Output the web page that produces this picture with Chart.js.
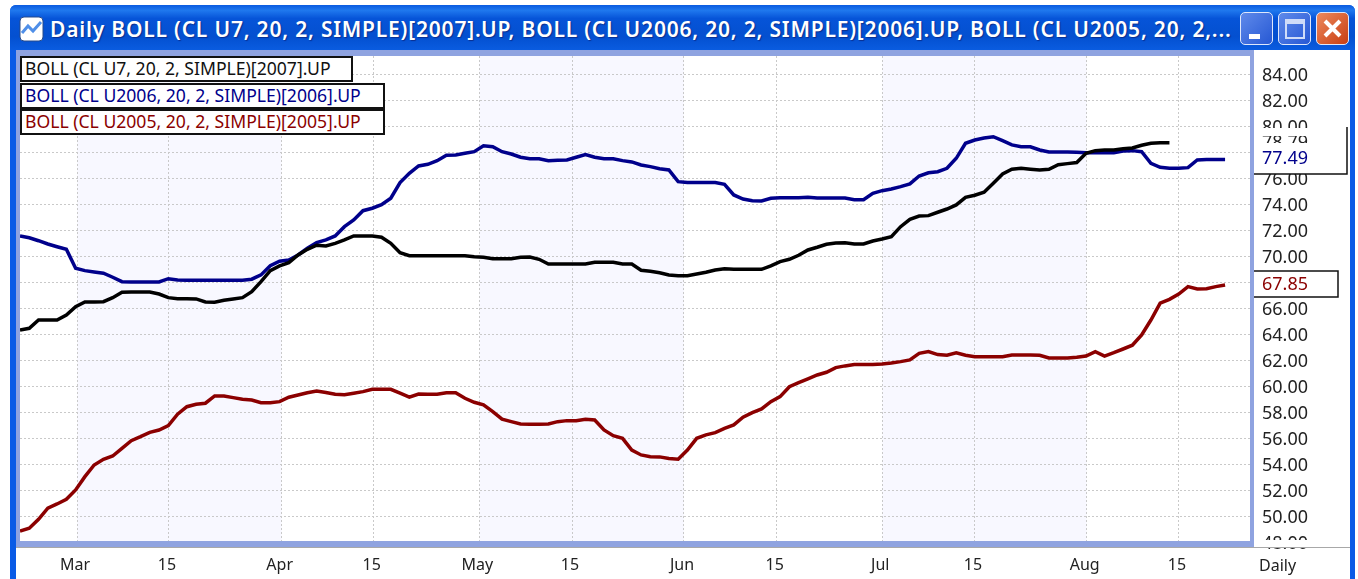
<!DOCTYPE html>
<html>
<head>
<meta charset="utf-8">
<style>
  html, body { margin: 0; padding: 0; background: #fff; }
  body { width: 1358px; height: 579px; position: relative; overflow: hidden; font-family: "Noto Sans", sans-serif; }
  #win { position: absolute; left: 10px; top: 5px; width: 1345px; height: 574px; background: #0a5be6; border-radius: 6px 6px 0 0; }
  #bar { position: absolute; left: 10px; top: 5px; width: 1345px; height: 45px; border-radius: 6px 6px 0 0;
         background: linear-gradient(#0a5ae0 0%, #1f78ee 12%, #0654d8 30%, #0450d0 70%, #0a5ce0 100%); }
  #title { position: absolute; left: 50px; top: 15px; color: #fff; font-size: 21px; font-weight: 600; letter-spacing: 0.8px; white-space: nowrap; text-shadow: 1px 1px 1px #0a2f90; line-height: 28px; }
  #frame { position: absolute; left: 16px; top: 50px; width: 1238px; height: 497px; background: #8fa3e0; }
  #plot { position: absolute; left: 20px; top: 56px; width: 1230px; height: 485px; background: #fff; }
  #side { position: absolute; left: 1254px; top: 50px; width: 96px; height: 497px; background: #fff; }
  #foot { position: absolute; left: 16px; top: 547px; width: 1334px; height: 32px; background: #fff; }
  canvas { position: absolute; left: 0; top: 0; }
  .leg { position: absolute; left: 20px; box-sizing: border-box; border: 2px solid #111; background: #fff; font-size: 17.6px; line-height: 21px; padding-left: 3px; white-space: nowrap; }
  .btn { position: absolute; top: 12px; width: 33px; height: 33px; box-sizing: border-box; border: 1px solid #dfe8fb; border-radius: 5px; background: linear-gradient(135deg, #5f8aea, #2658d4); }
  #daily { position: absolute; left: 1259px; top: 553px; font-size: 16px; line-height: 24px; color: #222; }
</style>
</head>
<body>
<div id="win"></div>
<div id="bar"></div>
<svg style="position:absolute;left:19px;top:16px" width="25" height="26" viewBox="0 0 25 26">
  <rect x="1" y="1" width="23" height="24" rx="4" fill="#fff" stroke="#274a8a"/>
  <path d="M3 17 L9 10 L14 15 L22 6" fill="none" stroke="#4f8fe8" stroke-width="3"/>
</svg>
<div id="title">Daily BOLL (CL U7, 20, 2, SIMPLE)[2007].UP, BOLL (CL U2006, 20, 2, SIMPLE)[2006].UP, BOLL (CL U2005, 20, 2,...</div>
<div class="btn" style="left:1240px"><div style="position:absolute;left:8px;top:21px;width:11px;height:5px;background:#fff"></div></div>
<div class="btn" style="left:1278px"><div style="position:absolute;left:6px;top:6px;width:20px;height:20px;box-sizing:border-box;border:2px solid #cfdcf8;border-top-width:5px"></div></div>
<div class="btn" style="left:1316px;background:linear-gradient(135deg,#ec8a5e,#c93e12)">
  <svg width="31" height="31" viewBox="0 0 31 31"><path d="M8 8 L23 23 M23 8 L8 23" stroke="#fff" stroke-width="4"/></svg>
</div>
<div id="frame"></div>
<div id="plot"></div>
<div id="side"></div>
<div id="foot"></div>
<canvas id="myChart" width="1358" height="579"></canvas>
<div class="leg" style="top:56px;width:333px;height:26px;color:#111">BOLL (CL U7, 20, 2, SIMPLE)[2007].UP</div>
<div class="leg" style="top:83px;width:365px;height:26px;color:#00008b">BOLL (CL U2006, 20, 2, SIMPLE)[2006].UP</div>
<div class="leg" style="top:109px;width:365px;height:26px;color:#8b0000">BOLL (CL U2005, 20, 2, SIMPLE)[2005].UP</div>
<div id="daily">Daily</div>

<script src="https://cdn.jsdelivr.net/npm/chart.js"></script>
<script>
  // values, one per trading bar
  const boll2007 = [
    64.38, 64.51, 65.15, 65.15, 65.15, 65.54, 66.18, 66.54, 66.54, 66.56,
    66.87, 67.29, 67.31, 67.31, 67.31, 67.15, 66.87, 66.79, 66.79, 66.77,
    66.54, 66.52, 66.67, 66.77, 66.87, 67.33, 68.10, 68.95, 69.31, 69.56,
    70.15, 70.59, 70.90, 70.85, 71.05, 71.31, 71.62, 71.62, 71.62, 71.52,
    71.05, 70.33, 70.10, 70.10, 70.10, 70.10, 70.10, 70.10, 70.10, 70.02,
    69.98, 69.87, 69.87, 69.87, 69.98, 70.00, 69.82, 69.46, 69.46, 69.46,
    69.46, 69.46, 69.59, 69.59, 69.59, 69.46, 69.46, 68.98, 68.90, 68.79,
    68.62, 68.56, 68.56, 68.69, 68.82, 69.00, 69.10, 69.05, 69.05, 69.05,
    69.05, 69.31, 69.64, 69.82, 70.13, 70.54, 70.75, 70.98, 71.08, 71.10,
    71.00, 71.00, 71.23, 71.38, 71.56, 72.33, 72.90, 73.15, 73.18, 73.44,
    73.69, 74.00, 74.59, 74.75, 74.98, 75.67, 76.38, 76.75, 76.82, 76.75,
    76.69, 76.75, 77.10, 77.18, 77.26, 77.98, 78.18, 78.23, 78.23, 78.33,
    78.38, 78.59, 78.75, 78.79, 78.79
  ];
  const boll2006 = [
    71.62, 71.48, 71.25, 71.00, 70.79, 70.59, 69.13, 68.95, 68.85, 68.75,
    68.44, 68.10, 68.08, 68.08, 68.08, 68.08, 68.33, 68.23, 68.21, 68.21,
    68.21, 68.21, 68.21, 68.21, 68.21, 68.29, 68.62, 69.33, 69.67, 69.77,
    70.15, 70.67, 71.10, 71.31, 71.62, 72.33, 72.85, 73.56, 73.75, 74.02,
    74.52, 75.72, 76.44, 77.00, 77.13, 77.41, 77.82, 77.85, 77.98, 78.10,
    78.56, 78.48, 78.10, 77.92, 77.67, 77.56, 77.56, 77.41, 77.44, 77.46,
    77.67, 77.87, 77.67, 77.56, 77.56, 77.41, 77.31, 77.08, 76.95, 76.79,
    76.69, 75.79, 75.72, 75.72, 75.72, 75.72, 75.59, 74.77, 74.46, 74.33,
    74.31, 74.52, 74.56, 74.56, 74.56, 74.59, 74.54, 74.54, 74.54, 74.54,
    74.41, 74.41, 74.90, 75.10, 75.23, 75.41, 75.62, 76.23, 76.48, 76.56,
    76.82, 77.59, 78.75, 79.00, 79.15, 79.25, 78.95, 78.62, 78.48, 78.48,
    78.23, 78.08, 78.08, 78.08, 78.05, 78.02, 78.02, 78.02, 78.02, 78.15,
    78.18, 78.10, 77.21, 76.90, 76.82, 76.82, 76.87, 77.46, 77.49, 77.49,
    77.49
  ];
  const boll2005 = [
    48.92, 49.13, 49.82, 50.67, 51.00, 51.36, 52.08, 53.10, 54.00, 54.44,
    54.69, 55.28, 55.87, 56.18, 56.51, 56.69, 57.02, 57.90, 58.48, 58.67,
    58.75, 59.31, 59.31, 59.18, 59.05, 59.00, 58.79, 58.79, 58.87, 59.21,
    59.38, 59.56, 59.69, 59.58, 59.44, 59.41, 59.52, 59.64, 59.82, 59.82,
    59.82, 59.52, 59.21, 59.46, 59.44, 59.44, 59.56, 59.56, 59.13, 58.82,
    58.62, 58.10, 57.52, 57.33, 57.15, 57.13, 57.13, 57.15, 57.33, 57.41,
    57.41, 57.52, 57.46, 56.69, 56.25, 56.05, 55.15, 54.77, 54.64, 54.62,
    54.49, 54.44, 55.15, 56.05, 56.31, 56.49, 56.82, 57.08, 57.67, 58.02,
    58.31, 58.87, 59.26, 60.02, 60.33, 60.62, 60.92, 61.13, 61.49, 61.62,
    61.72, 61.72, 61.72, 61.77, 61.85, 61.95, 62.08, 62.59, 62.72, 62.49,
    62.44, 62.62, 62.44, 62.33, 62.33, 62.33, 62.33, 62.46, 62.46, 62.46,
    62.44, 62.23, 62.23, 62.23, 62.28, 62.38, 62.72, 62.38, 62.64, 62.92,
    63.21, 64.00, 65.15, 66.44, 66.74, 67.15, 67.72, 67.54, 67.56, 67.72,
    67.85
  ];
  const xTickNames = ['Mar', '15', 'Apr', '15', 'May', '15', 'Jun', '15', 'Jul', '15', 'Aug', '15'];
  const xTickBars = [6.15, 16.07, 28.23, 38.16, 49.55, 59.55, 71.63, 81.63, 93.02, 103.02, 115.07, 125.02];
  const yTicks = [84, 82, 80, 78, 76, 74, 72, 70, 68, 66, 64, 62, 60, 58, 56, 54, 52, 50, 48];

  const toPoints = values => values.map((v, i) => ({ x: i, y: v }));

  const gridStyle = {
    // 48.00 only shows as a clipped label, its line falls outside the plot
    color: c => (c.tick && c.tick.value === 48 ? 'transparent' : '#c9c9c9'),
    lineWidth: 1,
    drawTicks: false,
  };
  const borderStyle = { display: false, dash: [2, 2] };

  // shaded months, axis tags and the cover under the last tick label
  const chromePlugin = {
    id: 'chrome',
    beforeDraw(chart) {
      const { ctx, chartArea, scales } = chart;
      ctx.save();
      ctx.fillStyle = '#f8f8ff';
      [[0, 2], [4, 6], [8, 10]].forEach(([a, b]) => {
        const x1 = scales.x.getPixelForValue(xTickBars[a]);
        const x2 = scales.x.getPixelForValue(xTickBars[b]);
        ctx.fillRect(x1, chartArea.top, x2 - x1, chartArea.height);
      });
      ctx.restore();
    },
    afterDraw(chart) {
      const { ctx, scales } = chart;
      const font = '18px "Noto Sans"';
      ctx.save();
      ctx.fillStyle = '#fff';
      ctx.fillRect(1254, 540, 96, 7);
      ctx.fillStyle = '#a8a8a8';
      ctx.fillRect(16, 547, 1334, 1);

      // upper pair of tags
      ctx.fillStyle = '#fff';
      ctx.fillRect(1254, 128, 93, 46);
      ctx.font = font;
      ctx.textBaseline = 'middle';
      ctx.save();
      ctx.beginPath();
      ctx.rect(1254, 136, 93, 7);
      ctx.clip();
      ctx.fillStyle = '#222';
      ctx.fillText(boll2007[boll2007.length - 1].toFixed(2), 1262, scales.y.getPixelForValue(boll2007[boll2007.length - 1]));
      ctx.restore();
      ctx.fillStyle = '#00008b';
      ctx.fillText(boll2006[boll2006.length - 1].toFixed(2), 1262, scales.y.getPixelForValue(boll2006[boll2006.length - 1]) - 1);
      ctx.strokeStyle = '#111';
      ctx.lineWidth = 1.5;
      ctx.beginPath();
      ctx.moveTo(1347, 127);
      ctx.lineTo(1347, 174);
      ctx.lineTo(1254, 174);
      ctx.stroke();

      // red tag
      ctx.fillStyle = '#fff';
      ctx.fillRect(1254, 271, 84, 26);
      ctx.fillStyle = '#8b0000';
      ctx.fillText(boll2005[boll2005.length - 1].toFixed(2), 1262, scales.y.getPixelForValue(boll2005[boll2005.length - 1]));
      ctx.beginPath();
      ctx.moveTo(1254, 271);
      ctx.lineTo(1338, 271);
      ctx.lineTo(1338, 297);
      ctx.lineTo(1254, 297);
      ctx.stroke();
      ctx.restore();
    }
  };

  const ctx = document.getElementById('myChart');

  new Chart(ctx, {
    type: 'line',
    plugins: [chromePlugin],
    data: {
      datasets: [
        { label: 'BOLL (CL U7, 20, 2, SIMPLE)[2007].UP', data: toPoints(boll2007), borderColor: '#000000', borderWidth: 3.5 },
        { label: 'BOLL (CL U2006, 20, 2, SIMPLE)[2006].UP', data: toPoints(boll2006), borderColor: '#00008b', borderWidth: 3.5 },
        { label: 'BOLL (CL U2005, 20, 2, SIMPLE)[2005].UP', data: toPoints(boll2005), borderColor: '#8b0000', borderWidth: 3.5 },
      ],
    },
    options: {
      responsive: false,
      animation: false,
      events: [],
      elements: { point: { radius: 0 }, line: { tension: 0 } },
      layout: { padding: { left: 20, top: 56, right: 0, bottom: 0 } },
      plugins: { legend: { display: false }, tooltip: { enabled: false } },
      scales: {
        x: {
          type: 'linear',
          min: 0,
          max: 132.69,
          border: borderStyle,
          grid: gridStyle,
          ticks: {
            autoSkip: false,
            maxRotation: 0,
            color: '#222',
            padding: 15,
            labelOffset: -2,
            font: { family: 'Noto Sans', size: 16 },
            callback: (value, index) => xTickNames[index],
          },
          afterBuildTicks: scale => { scale.ticks = xTickBars.map(value => ({ value })); },
          afterFit: scale => { scale.height = 38; },
        },
        y: {
          position: 'right',
          min: 48.15,
          max: 85.46,
          border: borderStyle,
          grid: gridStyle,
          ticks: {
            autoSkip: false,
            color: '#222',
            padding: 12,
            labelOffset: 1,
            font: { family: 'Noto Sans', size: 18 },
            callback: value => value.toFixed(2),
          },
          afterBuildTicks: scale => { scale.ticks = yTicks.map(value => ({ value })); },
          afterFit: scale => { scale.width = 108; },
        },
      },
    },
  });
</script>
</body>
</html>
